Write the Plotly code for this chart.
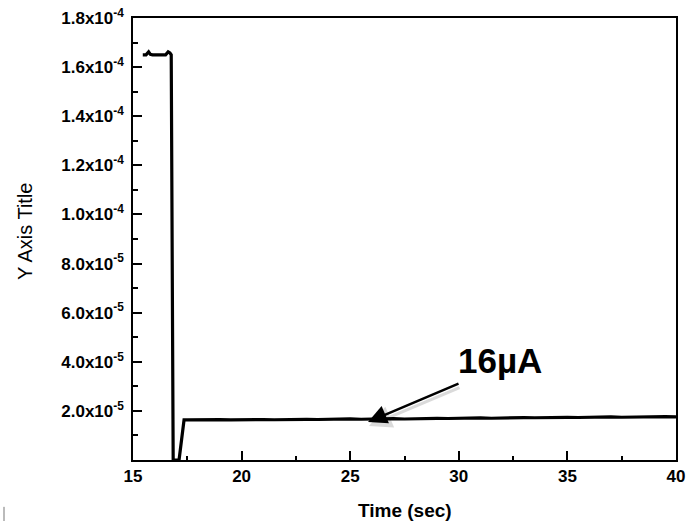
import plotly.graph_objects as go

# ---- data ----
time_s = [15.45, 15.6, 15.72, 15.8, 15.9, 16.1, 16.3, 16.5, 16.62, 16.7, 16.76,
          16.85, 17.12, 17.35,
          17.5, 18.0, 18.5, 19.0, 19.5, 20.0, 20.5, 21.0, 21.5, 22.0, 22.5, 23.0,
          23.5, 24.0, 24.5, 25.0, 25.5, 26.0, 26.5, 27.0, 27.5, 28.0, 28.5, 29.0,
          29.5, 30.0, 30.5, 31.0, 31.5, 32.0, 32.5, 33.0, 33.5, 34.0, 34.5, 35.0,
          35.5, 36.0, 36.5, 37.0, 37.5, 38.0, 38.5, 39.0, 39.5, 40.0]
current_a = [1.650e-4, 1.650e-4, 1.662e-4, 1.652e-4, 1.650e-4, 1.650e-4, 1.650e-4,
             1.650e-4, 1.662e-4, 1.658e-4, 1.650e-4,
             0.0, 0.0, 1.63e-5,
             1.63e-5, 1.64e-5, 1.63e-5, 1.645e-5, 1.63e-5, 1.645e-5, 1.63e-5, 1.645e-5,
             1.64e-5, 1.655e-5, 1.64e-5, 1.655e-5, 1.65e-5, 1.665e-5, 1.65e-5, 1.675e-5,
             1.66e-5, 1.675e-5, 1.67e-5, 1.685e-5, 1.67e-5, 1.685e-5, 1.68e-5, 1.695e-5,
             1.69e-5, 1.705e-5, 1.70e-5, 1.715e-5, 1.70e-5, 1.715e-5, 1.71e-5, 1.725e-5,
             1.72e-5, 1.735e-5, 1.72e-5, 1.735e-5, 1.73e-5, 1.745e-5, 1.74e-5, 1.755e-5,
             1.74e-5, 1.755e-5, 1.75e-5, 1.765e-5, 1.77e-5, 1.76e-5]

x_ticks = [15, 20, 25, 30, 35, 40]
y_tick_vals = [2e-5, 4e-5, 6e-5, 8e-5, 1.0e-4, 1.2e-4, 1.4e-4, 1.6e-4, 1.8e-4]
y_tick_text = ["2.0x10<sup>-5</sup>", "4.0x10<sup>-5</sup>", "6.0x10<sup>-5</sup>",
               "8.0x10<sup>-5</sup>", "1.0x10<sup>-4</sup>", "1.2x10<sup>-4</sup>",
               "1.4x10<sup>-4</sup>", "1.6x10<sup>-4</sup>", "1.8x10<sup>-4</sup>"]
y_minor_vals = [1e-5, 3e-5, 5e-5, 7e-5, 9e-5, 1.1e-4, 1.3e-4, 1.5e-4, 1.7e-4]
x_minor_vals = [17.5, 22.5, 27.5, 32.5, 37.5]

annot_text = "16µA"
annot_point = (25.82, 1.55e-5)

FONT = "Liberation Sans, Arial, sans-serif"

fig = go.Figure()
fig.add_trace(go.Scatter(x=time_s, y=current_a, mode="lines",
                         line=dict(color="black", width=3.2), showlegend=False))

fig.update_layout(
    width=689, height=522,
    margin=dict(l=133, r=13, t=18, b=62, autoexpand=False),
    paper_bgcolor="white", plot_bgcolor="white",
    font=dict(family=FONT, color="black"),
)
fig.update_xaxes(
    range=[15, 40], tickmode="array", tickvals=x_ticks,
    ticktext=[f"<b>{v}</b>" for v in x_ticks], automargin=False,
    ticks="inside", ticklen=9, tickwidth=1.5, tickcolor="black",
    minor=dict(tickmode="array", tickvals=x_minor_vals, ticks="inside",
               ticklen=4, tickwidth=1.5, tickcolor="black"),
    showline=True, linecolor="black", linewidth=1.5, mirror=True,
    showgrid=False, zeroline=False,
    tickfont=dict(size=17, family=FONT, color="black"),
)
fig.update_yaxes(
    range=[0, 1.8e-4], tickmode="array", tickvals=y_tick_vals,
    ticktext=[f"<b>{t}</b>" for t in y_tick_text], automargin=False,
    ticks="inside", ticklen=9, tickwidth=1.5, tickcolor="black",
    ticklabelstandoff=4,
    minor=dict(tickmode="array", tickvals=y_minor_vals, ticks="inside",
               ticklen=5, tickwidth=1.5, tickcolor="black"),
    showline=True, linecolor="black", linewidth=1.5, mirror=True,
    showgrid=False, zeroline=False,
    tickfont=dict(size=17, family=FONT, color="black"),
)

# axis titles
fig.add_annotation(text="<b>Time (sec)</b>", xref="paper", yref="paper",
                   x=0.5, y=-0.115, yanchor="middle", xanchor="center",
                   showarrow=False, font=dict(size=19, family=FONT, color="black"))
fig.add_annotation(text="Y Axis Title", xref="paper", yref="paper",
                   x=-0.199, y=0.518, xanchor="center", yanchor="middle",
                   textangle=-90, showarrow=False,
                   font=dict(size=20, family=FONT, color="black"))

# arrow shadow
fig.add_annotation(x=annot_point[0], y=annot_point[1], xref="x", yref="y",
                   ax=92, ay=-39, text="", showarrow=True, arrowhead=2,
                   arrowsize=1.5, arrowwidth=3, arrowcolor="rgba(0,0,0,0.14)",
                   xshift=1, yshift=-4)
# arrow
fig.add_annotation(x=annot_point[0], y=annot_point[1], xref="x", yref="y",
                   ax=92, ay=-39, text="", showarrow=True, arrowhead=2,
                   arrowsize=1.5, arrowwidth=2.5, arrowcolor="black")
# label
fig.add_annotation(x=31.9, y=4.07e-5, xref="x", yref="y", text=f"<b>{annot_text}</b>",
                   showarrow=False, xanchor="center", yanchor="middle",
                   font=dict(size=35, family=FONT, color="black"))

# small grey mark in lower-left corner
fig.add_shape(type="line", xref="paper", yref="paper",
              x0=-0.2376, x1=-0.2376, y0=-0.106, y1=-0.138,
              line=dict(color="#bbbbbb", width=2))

fig.write_html("out.html")
